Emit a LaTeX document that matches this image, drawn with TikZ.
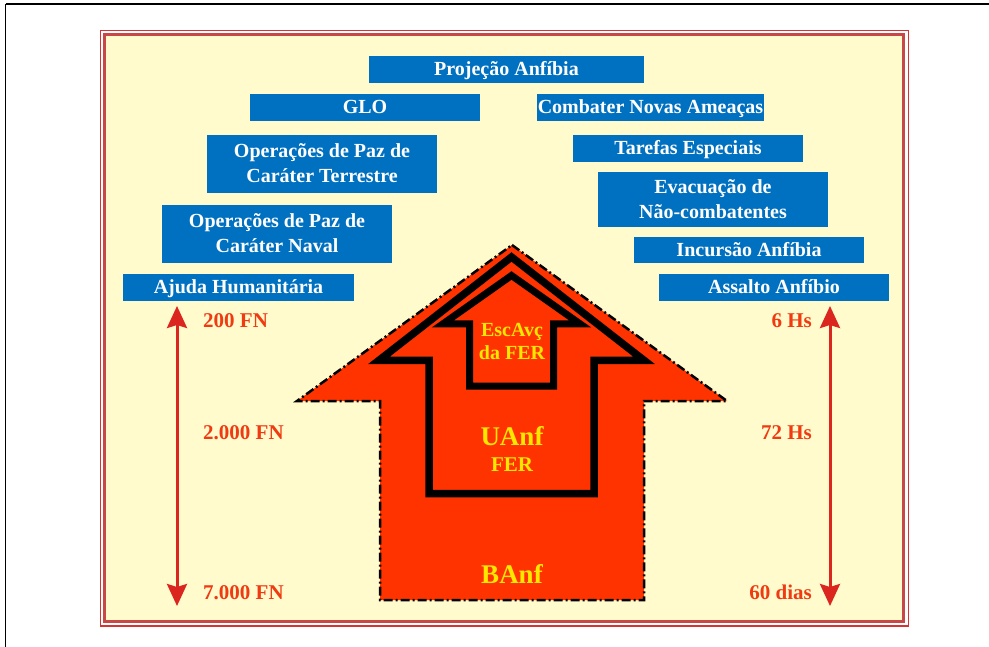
\documentclass[tikz,border=0pt]{standalone}
\usepackage{fontspec}
\setmainfont{Liberation Serif}
\usetikzlibrary{arrows.meta}
\definecolor{paper}{RGB}{255,251,204}
\definecolor{framered}{RGB}{214,52,52}
\definecolor{framedark}{RGB}{200,72,72}
\definecolor{boxblue}{RGB}{0,112,192}
\definecolor{flame}{RGB}{255,51,0}
\definecolor{gold}{RGB}{255,232,0}
\definecolor{numred}{RGB}{240,58,18}
\definecolor{arrowred}{RGB}{218,38,30}
\begin{document}
\begin{tikzpicture}[x=1pt,y=-1pt,
  opbox/.style={fill=boxblue, text=white, inner sep=0pt,
    minimum width=230pt, minimum height=27pt,
    text height=14pt, text depth=1pt, align=center,
    font=\fontsize{20}{25}\selectfont\bfseries},
  opboxtwo/.style={opbox, minimum height=58pt, text height=39pt, text depth=1pt},
  forcelbl/.style={text=numred, inner sep=0pt,
    font=\fontsize{21}{24}\selectfont\bfseries},
  unitlbl/.style={text=gold, inner sep=0pt, anchor=base},
  spanarrow/.style={draw=arrowred, line width=3pt,
    {Stealth[length=22pt,width=20pt,inset=3pt]}-{Stealth[length=22pt,width=20pt,inset=3pt]}},
  basefill/.style={fill=flame, draw=black, line width=2.5pt,
    dash pattern=on 9pt off 3pt on 2pt off 3pt},
  echelon/.style={draw=black, line join=miter}
]
\useasboundingbox (0,0) rectangle (989,647);

% page frame
\draw[line width=2pt] (5.5,4.5) -- (989,4.5);
\draw[line width=1.5pt] (5.5,4.5) -- (5.5,647);

% double red border with pale yellow panel
\draw[framered, line width=1.4pt] (100.5,30.5) rectangle (908.5,626);
\draw[fill=paper, draw=framedark, line width=2.2pt] (104.5,34.5) rectangle (903.5,621.5);

% mission boxes
\node[opbox, minimum width=275pt] (proj) at (506.5,69.5) {Projeção Anfíbia};
\node[opbox] (glo) at (365,107.5) {GLO};
\node[opbox, minimum width=227pt] (cna) at (650.5,107.5) {Combater Novas Ameaças};
\node[opboxtwo] (opt) at (322,164) {Operações de Paz de\\Caráter Terrestre};
\node[opboxtwo] (opn) at (277,234) {Operações de Paz de\\Caráter Naval};
\node[opbox, minimum width=231pt] (aju) at (238.5,287.5) {Ajuda Humanitária};
\node[opbox] (tar) at (688,148.5) {Tarefas Especiais};
\node[opboxtwo, minimum height=55pt] (eva) at (713,199.5) {Evacuação de\\Não-combatentes};
\node[opbox, minimum height=26pt] (inc) at (749,250) {Incursão Anfíbia};
\node[opbox] (ass) at (774,287.5) {Assalto Anfíbio};

% nested force arrows
\path[basefill] (512,245) -- (727,401) -- (644,401) -- (644,600)
  -- (380,600) -- (380,401) -- (297,401) -- cycle;
\draw[echelon, line width=7.5pt] (511.5,257) -- (644,360.3) -- (594,360.3)
  -- (594,493.5) -- (429,493.5) -- (429,360.3) -- (379,360.3) -- cycle;
\draw[echelon, line width=7pt] (511.5,275.5) -- (580,323.8) -- (553.5,323.8)
  -- (553.5,386) -- (469.5,386) -- (469.5,323.8) -- (443,323.8) -- cycle;

\node[unitlbl, font=\fontsize{20}{22}\selectfont\bfseries] (esc) at (512,337) {EscAvç};
\node[unitlbl, font=\fontsize{20}{22}\selectfont\bfseries] (escb) at (512,359.5) {da FER};
\node[unitlbl, font=\fontsize{27}{30}\selectfont\bfseries] (uanf) at (512,445) {UAnf};
\node[unitlbl, font=\fontsize{21}{24}\selectfont\bfseries] (fer) at (512,471.5) {FER};
\node[unitlbl, font=\fontsize{27}{30}\selectfont\bfseries] (banf) at (512,583.5) {BAnf};

% troop strength scale
\node[forcelbl, anchor=base west] (n200) at (203,328) {200 FN};
\node[forcelbl, anchor=base west] (n2000) at (203,439.5) {2.000 FN};
\node[forcelbl, anchor=base west] (n7000) at (203,599.5) {7.000 FN};
\coordinate (ltop) at (177,306);
\coordinate (lbot) at (177,606);
\draw[spanarrow] (ltop) -- (lbot);

% readiness scale
\node[forcelbl, anchor=base east] (h6) at (812,328) {6 Hs};
\node[forcelbl, anchor=base east] (h72) at (812,439.5) {72 Hs};
\node[forcelbl, anchor=base east] (d60) at (812,599.5) {60 dias};
\coordinate (rtop) at (830,306);
\coordinate (rbot) at (830,606);
\draw[spanarrow] (rtop) -- (rbot);
\end{tikzpicture}
\end{document}
